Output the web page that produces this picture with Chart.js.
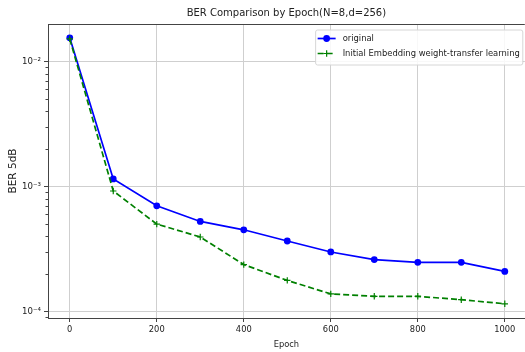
<!DOCTYPE html>
<html><head><meta charset="utf-8">
<script src="https://cdn.jsdelivr.net/npm/chart.js@4/dist/chart.umd.min.js"></script>
<style>html,body{margin:0;padding:0;overflow:hidden;background:#fff}#wrap{width:530px;height:352px;position:relative}</style>
</head><body><div id="wrap"><canvas id="c"></canvas></div>
<script>
// ---- data ----
const epochs = [0, 100, 200, 300, 400, 500, 600, 700, 800, 900, 1000];
const originalBER = [0.0155, 1.15e-3, 7.0e-4, 5.25e-4, 4.5e-4, 3.66e-4, 2.99e-4, 2.6e-4, 2.47e-4, 2.47e-4, 2.09e-4];
const transferBER = [0.0152, 9.2e-4, 5.0e-4, 3.94e-4, 2.37e-4, 1.77e-4, 1.38e-4, 1.32e-4, 1.32e-4, 1.24e-4, 1.15e-4];
const seriesLabels = ['original', 'Initial Embedding weight-transfer learning'];
const xTickValues = [0, 200, 400, 600, 800, 1000];
const titleText = 'BER Comparison by Epoch(N=8,d=256)';
const xTitle = 'Epoch';
const yTitle = 'BER 5dB';

const FONT = "'DejaVu Sans', sans-serif";
const SUP = {'-':'\u207B','0':'\u2070','1':'\u00B9','2':'\u00B2','3':'\u00B3','4':'\u2074','5':'\u2075','6':'\u2076','7':'\u2077','8':'\u2078','9':'\u2079'};
const supStr = s => String(s).split('').map(c => SUP[c] || c).join('');
const isMajor = v => Math.abs(Math.log10(v) - Math.round(Math.log10(v))) < 1e-9;

const yMin = Math.pow(10, -4.053), yMax = Math.pow(10, -1.699);
const yTickVals = [];
for (let e = -5; e <= -1; e++) for (let k = 1; k <= 9; k++) {
  const v = k * Math.pow(10, e);
  if (v >= yMin && v <= yMax) yTickVals.push(v);
}

const framePlugin = {
  id: 'frame',
  afterDatasetsDraw(chart) {
    const {ctx, chartArea: a, scales} = chart;
    ctx.save();
    // title centred over the axes
    ctx.fillStyle = '#222';
    ctx.font = '10px ' + FONT;
    ctx.textAlign = 'center'; ctx.textBaseline = 'middle';
    ctx.fillText(titleText, (a.left + a.right) / 2, a.top - 11);
    // top spine
    ctx.strokeStyle = '#444'; ctx.lineWidth = 1;
    ctx.beginPath(); ctx.moveTo(a.left, a.top + 0.5); ctx.lineTo(a.right, a.top + 0.5); ctx.stroke();
    // minor y ticks
    const ys = scales.y;
    ctx.beginPath();
    yTickVals.filter(v => !isMajor(v)).forEach(v => {
      const p = Math.round(ys.getPixelForValue(v)) + 0.5;
      ctx.moveTo(a.left - 2.5, p); ctx.lineTo(a.left, p);
    });
    ctx.stroke();
    // legend
    const fs = 8.4;
    ctx.font = fs + 'px ' + FONT;
    const tw = Math.max(...seriesLabels.map(t => ctx.measureText(t).width));
    const pad = 2.5, handle = 18, gap = 7, rowH = 15;
    const w = pad + handle + gap + tw + pad;
    const h = rowH * seriesLabels.length + 5;
    const bx = a.right - 2.5 - w, by = a.top + 5.5;
    ctx.fillStyle = 'rgba(255,255,255,0.85)';
    ctx.strokeStyle = '#d6d6d6';
    ctx.beginPath();
    if (ctx.roundRect) ctx.roundRect(bx + 0.5, by + 0.5, w, h, 2); else ctx.rect(bx + 0.5, by + 0.5, w, h);
    ctx.fill(); ctx.stroke();
    chart.data.datasets.forEach((ds, i) => {
      const cy = by + 9 + i * rowH;
      const x0 = bx + pad, x1 = x0 + handle, xm = (x0 + x1) / 2;
      ctx.strokeStyle = ds.borderColor; ctx.lineWidth = ds.borderWidth;
      ctx.setLineDash(ds.borderDash || []);
      ctx.beginPath(); ctx.moveTo(x0, cy); ctx.lineTo(x1, cy); ctx.stroke();
      ctx.setLineDash([]);
      if (ds.pointStyle === 'circle') {
        ctx.fillStyle = ds.pointBackgroundColor;
        ctx.beginPath(); ctx.arc(xm, cy, ds.pointRadius, 0, Math.PI * 2); ctx.fill();
      } else {
        ctx.lineWidth = 1.2; ctx.strokeStyle = ds.pointBorderColor;
        const r = ds.pointRadius;
        ctx.beginPath(); ctx.moveTo(xm - r, cy); ctx.lineTo(xm + r, cy); ctx.moveTo(xm, cy - r); ctx.lineTo(xm, cy + r); ctx.stroke();
      }
      ctx.fillStyle = '#222'; ctx.textBaseline = 'middle'; ctx.textAlign = 'left';
      ctx.fillText(ds.label, x1 + gap, cy);
    });
    ctx.restore();
  }
};

new Chart(document.getElementById('c'), {
  type: 'line',
  data: {
    datasets: [
      {
        label: seriesLabels[0],
        data: epochs.map((x, i) => ({x, y: originalBER[i]})),
        borderColor: '#0000ff', backgroundColor: '#0000ff',
        pointBackgroundColor: '#0000ff', pointBorderColor: '#0000ff',
        borderWidth: 1.7, pointStyle: 'circle', pointRadius: 3.4, pointBorderWidth: 0,
        tension: 0, order: 2
      },
      {
        label: seriesLabels[1],
        data: epochs.map((x, i) => ({x, y: transferBER[i]})),
        borderColor: '#008000', backgroundColor: '#008000',
        pointBackgroundColor: '#008000', pointBorderColor: '#008000',
        borderWidth: 1.7, borderDash: [6, 3], pointStyle: 'cross', pointRadius: 3.2, pointBorderWidth: 1.2,
        tension: 0, order: 1
      }
    ]
  },
  options: {
    responsive: true, maintainAspectRatio: false, animation: false,
    devicePixelRatio: 1,
    layout: { padding: { left: 0, right: 0, top: 24, bottom: 0 } },
    plugins: {
      legend: { display: false },
      tooltip: { enabled: false },
      title: { display: false }
    },
    scales: {
      x: {
        type: 'linear', min: -50, max: 1046,
        afterBuildTicks: s => { s.ticks = xTickValues.map(v => ({value: v})); },
        afterFit: s => { s.height = 34; s.paddingLeft = 0; s.paddingRight = 0; },
        grid: { color: '#cfcfcf', lineWidth: 1, drawTicks: true, tickLength: 4, tickColor: '#444' },
        border: { display: true, color: '#444', width: 1 },
        ticks: { color: '#222', font: { family: FONT, size: 8.3 }, padding: 3, maxRotation: 0, autoSkip: false,
                 callback: v => String(v) },
        title: { display: true, text: xTitle, color: '#222', font: { family: FONT, size: 8.3 }, padding: { top: 0, bottom: 2 } }
      },
      y: {
        type: 'logarithmic', min: yMin, max: yMax,
        afterBuildTicks: s => { s.ticks = yTickVals.map(v => ({value: v, major: isMajor(v)})); },
        afterFit: s => { s.width = 48; s.paddingTop = 0; s.paddingBottom = 0; },
        grid: {
          color: c => (c.tick && isMajor(c.tick.value)) ? '#cfcfcf' : 'rgba(0,0,0,0)',
          tickColor: c => (c.tick && isMajor(c.tick.value)) ? '#444' : 'rgba(0,0,0,0)',
          lineWidth: 1, drawTicks: true, tickLength: 4
        },
        border: { display: true, color: '#444', width: 1 },
        ticks: {
          color: '#222', font: { family: FONT, size: 8.6 }, padding: 3, autoSkip: false,
          callback: v => isMajor(v) ? '10' + supStr(Math.round(Math.log10(v))) : ''
        },
        title: { display: true, text: yTitle, color: '#222', font: { family: FONT, size: 10.5 }, padding: { top: 7, bottom: 0 } }
      }
    }
  },
  plugins: [framePlugin]
});
</script>
</body></html>
